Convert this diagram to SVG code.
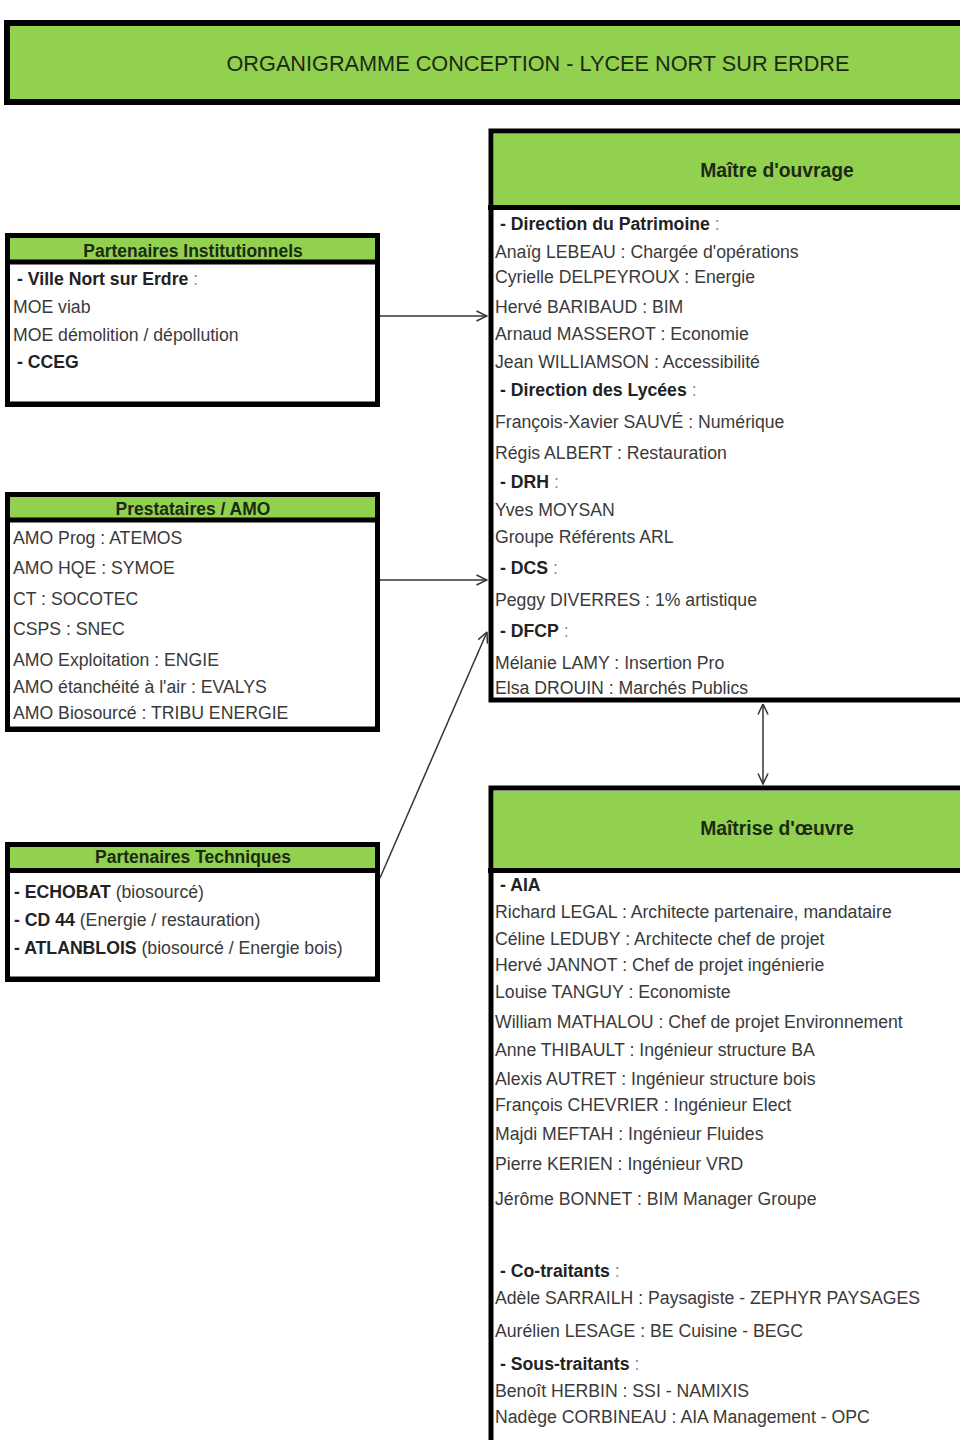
<svg xmlns="http://www.w3.org/2000/svg" width="960" height="1440" viewBox="0 0 960 1440">
<style>
text{font-family:"Liberation Sans",Arial,sans-serif;}
.box{fill:none;stroke:#000;stroke-width:5;}
.bg{fill:#fff;}
.hd{fill:#92D050;}
.div{stroke:#000;stroke-width:5;}
.t{font-size:19px;fill:#3a3a3a;}
.b{font-weight:bold;fill:#222;}
.c{fill:#8a8a8a;font-weight:normal;}
.h{font-size:19px;font-weight:bold;fill:#1b2a12;}
.H{font-size:21px;font-weight:bold;fill:#1b2a12;}
.title{font-size:21.7px;fill:#1c2a14;}
.cn{stroke:#333;stroke-width:1.5;fill:none;}
</style>
<defs>
<marker id="arr" markerUnits="userSpaceOnUse" viewBox="0 0 12 12" refX="11.5" refY="6" markerWidth="12" markerHeight="12" orient="auto-start-reverse">
<path d="M1,1 L11.5,6 L1,11" fill="none" stroke="#333" stroke-width="1.5"/>
</marker>
</defs>
<rect width="960" height="1440" fill="#fff"/>

<g id="title">
<rect x="7" y="23" width="980" height="79" fill="#92D050" stroke="#000" stroke-width="6"/>
<text class="title" x="538" y="71" text-anchor="middle">ORGANIGRAMME CONCEPTION - LYCEE NORT SUR ERDRE</text>
</g>

<g id="partenaires-institutionnels">
<rect class="bg" x="7.5" y="235.5" width="370" height="169"/>
<rect class="hd" x="10" y="238" width="365" height="23"/>
<line class="div" x1="5" y1="262" x2="380" y2="262" stroke-width="4"/>
<rect class="box" x="7.5" y="235.5" width="370" height="169"/>
<line class="div" x1="5" y1="404" x2="380" y2="404" stroke-width="6"/>
<g transform="translate(193,0) scale(0.92,1)"><text class="h" x="0" y="257" text-anchor="middle">Partenaires Institutionnels</text></g>
<g transform="translate(13,0) scale(0.93,1)">
<text class="t" x="4.3" y="285"><tspan class="b">- Ville Nort sur Erdre</tspan><tspan class="c"> :</tspan></text>
<text class="t" x="0" y="313">MOE viab</text>
<text class="t" x="0" y="341">MOE démolition / dépollution</text>
<text class="t b" x="4.3" y="368">- CCEG</text>
</g>
</g>

<g id="prestataires-amo">
<rect class="bg" x="7.5" y="494.5" width="370" height="235"/>
<rect class="hd" x="10" y="497" width="365" height="22"/>
<line class="div" x1="5" y1="520" x2="380" y2="520" stroke-width="4"/>
<rect class="box" x="7.5" y="494.5" width="370" height="235"/>
<line class="div" x1="5" y1="729" x2="380" y2="729" stroke-width="6"/>
<g transform="translate(193,0) scale(0.92,1)"><text class="h" x="0" y="515" text-anchor="middle">Prestataires / AMO</text></g>
<g transform="translate(13,0) scale(0.93,1)">
<text class="t" x="0" y="544">AMO Prog : ATEMOS</text>
<text class="t" x="0" y="574">AMO HQE : SYMOE</text>
<text class="t" x="0" y="605">CT : SOCOTEC</text>
<text class="t" x="0" y="635">CSPS : SNEC</text>
<text class="t" x="0" y="666">AMO Exploitation : ENGIE</text>
<text class="t" x="0" y="693">AMO étanchéité à l'air : EVALYS</text>
<text class="t" x="0" y="719">AMO Biosourcé : TRIBU ENERGIE</text>
</g>
</g>

<g id="partenaires-techniques">
<rect class="bg" x="7.5" y="844.5" width="370" height="135"/>
<rect class="hd" x="10" y="847" width="365" height="22"/>
<line class="div" x1="5" y1="870.5" x2="380" y2="870.5"/>
<rect class="box" x="7.5" y="844.5" width="370" height="135"/>
<line class="div" x1="5" y1="979" x2="380" y2="979" stroke-width="6"/>
<g transform="translate(193,0) scale(0.92,1)"><text class="h" x="0" y="863" text-anchor="middle">Partenaires Techniques</text></g>
<g transform="translate(14,0) scale(0.93,1)">
<text class="t" x="0" y="898"><tspan class="b">- ECHOBAT</tspan> (biosourcé)</text>
<text class="t" x="0" y="926"><tspan class="b">- CD 44</tspan> (Energie / restauration)</text>
<text class="t" x="0" y="954"><tspan class="b">- ATLANBLOIS</tspan> (biosourcé / Energie bois)</text>
</g>
</g>

<g id="maitre-ouvrage">
<rect class="bg" x="491" y="131" width="600" height="569"/>
<rect class="hd" x="494" y="134" width="600" height="72"/>
<line class="div" x1="488" y1="207.5" x2="960" y2="207.5"/>
<rect class="box" x="491" y="131" width="600" height="569" stroke-width="6"/>
<g transform="translate(777,0) scale(0.92,1)"><text class="H" x="0" y="177" text-anchor="middle">Maître d'ouvrage</text></g>
<g transform="translate(495,0) scale(0.93,1)">
<text class="t" x="5.4" y="230"><tspan class="b">- Direction du Patrimoine</tspan><tspan class="c"> :</tspan></text>
<text class="t" x="0" y="258">Anaïg LEBEAU : Chargée d'opérations</text>
<text class="t" x="0" y="283">Cyrielle DELPEYROUX : Energie</text>
<text class="t" x="0" y="313">Hervé BARIBAUD : BIM</text>
<text class="t" x="0" y="340">Arnaud MASSEROT : Economie</text>
<text class="t" x="0" y="368">Jean WILLIAMSON : Accessibilité</text>
<text class="t" x="5.4" y="396"><tspan class="b">- Direction des Lycées</tspan><tspan class="c"> :</tspan></text>
<text class="t" x="0" y="428">François-Xavier SAUVÉ : Numérique</text>
<text class="t" x="0" y="459">Régis ALBERT : Restauration</text>
<text class="t" x="5.4" y="488"><tspan class="b">- DRH</tspan><tspan class="c"> :</tspan></text>
<text class="t" x="0" y="516">Yves MOYSAN</text>
<text class="t" x="0" y="543">Groupe Référents ARL</text>
<text class="t" x="5.4" y="574"><tspan class="b">- DCS</tspan><tspan class="c"> :</tspan></text>
<text class="t" x="0" y="606">Peggy DIVERRES : 1% artistique</text>
<text class="t" x="5.4" y="637"><tspan class="b">- DFCP</tspan><tspan class="c"> :</tspan></text>
<text class="t" x="0" y="669">Mélanie LAMY : Insertion Pro</text>
<text class="t" x="0" y="694">Elsa DROUIN : Marchés Publics</text>
</g>
</g>

<g id="maitrise-oeuvre">
<rect class="bg" x="491" y="788" width="600" height="800"/>
<rect class="hd" x="494" y="791" width="600" height="78"/>
<line class="div" x1="488" y1="870.5" x2="960" y2="870.5"/>
<rect class="box" x="491" y="788" width="600" height="800" stroke-width="6"/>
<g transform="translate(777,0) scale(0.92,1)"><text class="H" x="0" y="835" text-anchor="middle">Maîtrise d'œuvre</text></g>
<g transform="translate(495,0) scale(0.93,1)">
<text class="t b" x="5.4" y="891">- AIA</text>
<text class="t" x="0" y="918">Richard LEGAL : Architecte partenaire, mandataire</text>
<text class="t" x="0" y="945">Céline LEDUBY : Architecte chef de projet</text>
<text class="t" x="0" y="971">Hervé JANNOT : Chef de projet ingénierie</text>
<text class="t" x="0" y="998">Louise TANGUY : Economiste</text>
<text class="t" x="0" y="1028">William MATHALOU : Chef de projet Environnement</text>
<text class="t" x="0" y="1056">Anne THIBAULT : Ingénieur structure BA</text>
<text class="t" x="0" y="1085">Alexis AUTRET : Ingénieur structure bois</text>
<text class="t" x="0" y="1111">François CHEVRIER : Ingénieur Elect</text>
<text class="t" x="0" y="1140">Majdi MEFTAH : Ingénieur Fluides</text>
<text class="t" x="0" y="1170">Pierre KERIEN : Ingénieur VRD</text>
<text class="t" x="0" y="1205">Jérôme BONNET : BIM Manager Groupe</text>
<text class="t" x="5.4" y="1277"><tspan class="b">- Co-traitants</tspan><tspan class="c"> :</tspan></text>
<text class="t" x="0" y="1304">Adèle SARRAILH : Paysagiste - ZEPHYR PAYSAGES</text>
<text class="t" x="0" y="1337">Aurélien LESAGE : BE Cuisine - BEGC</text>
<text class="t" x="5.4" y="1370"><tspan class="b">- Sous-traitants</tspan><tspan class="c"> :</tspan></text>
<text class="t" x="0" y="1397">Benoît HERBIN : SSI - NAMIXIS</text>
<text class="t" x="0" y="1423">Nadège CORBINEAU : AIA Management - OPC</text>
</g>
</g>

<g id="connectors">
<line class="cn" x1="380" y1="316" x2="487" y2="316" marker-end="url(#arr)"/>
<line class="cn" x1="380" y1="580" x2="487" y2="580" marker-end="url(#arr)"/>
<line class="cn" x1="380" y1="878" x2="487" y2="632" marker-end="url(#arr)"/>
<line class="cn" x1="763" y1="704" x2="763" y2="784" marker-start="url(#arr)" marker-end="url(#arr)"/>
</g>
</svg>
